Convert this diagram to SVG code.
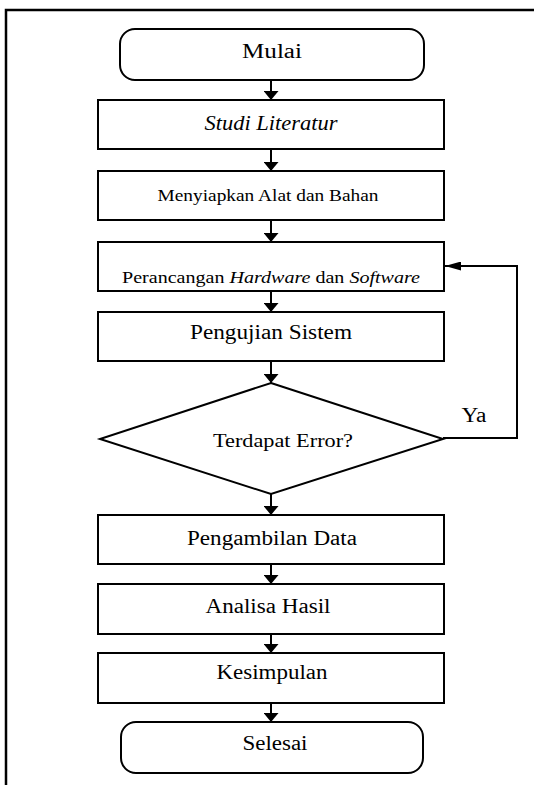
<svg xmlns="http://www.w3.org/2000/svg" width="534" height="785" viewBox="0 0 534 785">
<defs>
<marker id="ah" markerWidth="9" markerHeight="15" refX="9" refY="7.5" orient="auto" markerUnits="userSpaceOnUse">
<path d="M0,0 L9,7.5 L0,15 Z" fill="#000"/>
</marker>
<marker id="ahl" markerWidth="16" markerHeight="9" refX="16" refY="4.5" orient="auto" markerUnits="userSpaceOnUse">
<path d="M0,0 L16,4.5 L0,9 Z" fill="#000"/>
</marker>
<style>
.box{fill:#fff;stroke:#000;stroke-width:2}
.t{font-family:"Liberation Serif","Times New Roman",Tinos,"DejaVu Serif",serif;fill:#000;text-anchor:middle}
.c{fill:none;stroke:#000;stroke-width:2}
</style>
</defs>
<rect width="534" height="785" fill="#fff"/>
<path d="M6,785 V10 H534" fill="none" stroke="#000" stroke-width="2.5"/>
<g id="connectors">
<path class="c" d="M271,80 V100" marker-end="url(#ah)"/>
<path class="c" d="M271,149 V171" marker-end="url(#ah)"/>
<path class="c" d="M271,220 V242" marker-end="url(#ah)"/>
<path class="c" d="M271,291 V312" marker-end="url(#ah)"/>
<path class="c" d="M271,361 V383" marker-end="url(#ah)"/>
<path class="c" d="M271,494 V515" marker-end="url(#ah)"/>
<path class="c" d="M271,564 V584" marker-end="url(#ah)"/>
<path class="c" d="M271,634 V653" marker-end="url(#ah)"/>
<path class="c" d="M271,703 V722" marker-end="url(#ah)"/>
<path class="c" d="M443,438 H517 V266 H445" marker-end="url(#ahl)"/>
<text class="t" x="474" y="422" font-size="20" textLength="25" lengthAdjust="spacingAndGlyphs">Ya</text>
</g>
<g id="mulai">
<rect class="box" x="120" y="29" width="304" height="51" rx="15" ry="15"/>
<text class="t" x="272" y="58" font-size="20" textLength="60" lengthAdjust="spacingAndGlyphs">Mulai</text>
</g>
<g id="studi">
<rect class="box" x="98" y="100" width="346" height="49"/>
<text class="t" x="271" y="130" font-size="20" font-style="italic" textLength="133" lengthAdjust="spacingAndGlyphs">Studi Literatur</text>
</g>
<g id="menyiapkan">
<rect class="box" x="98" y="171" width="346" height="49"/>
<text class="t" x="268" y="201" font-size="17" textLength="221" lengthAdjust="spacingAndGlyphs">Menyiapkan Alat dan Bahan</text>
</g>
<g id="perancangan">
<rect class="box" x="98" y="242" width="346" height="49"/>
<text class="t" x="271" y="283" font-size="17" textLength="298" lengthAdjust="spacingAndGlyphs">Perancangan <tspan font-style="italic">Hardware</tspan> dan <tspan font-style="italic">Software</tspan></text>
</g>
<g id="pengujian">
<rect class="box" x="98" y="312" width="346" height="49"/>
<text class="t" x="271" y="339" font-size="20" textLength="162" lengthAdjust="spacingAndGlyphs">Pengujian Sistem</text>
</g>
<g id="error">
<polygon class="box" points="271,383 443,439 271,494 100,439"/>
<text class="t" x="283" y="447" font-size="19" textLength="140" lengthAdjust="spacingAndGlyphs">Terdapat Error?</text>
</g>
<g id="pengambilan">
<rect class="box" x="98" y="515" width="346" height="49"/>
<text class="t" x="272" y="545" font-size="20" textLength="170" lengthAdjust="spacingAndGlyphs">Pengambilan Data</text>
</g>
<g id="analisa">
<rect class="box" x="98" y="584" width="346" height="50"/>
<text class="t" x="268" y="613" font-size="20" textLength="125" lengthAdjust="spacingAndGlyphs">Analisa Hasil</text>
</g>
<g id="kesimpulan">
<rect class="box" x="98" y="653" width="346" height="50"/>
<text class="t" x="272" y="679" font-size="20" textLength="111" lengthAdjust="spacingAndGlyphs">Kesimpulan</text>
</g>
<g id="selesai">
<rect class="box" x="121" y="722" width="302" height="51" rx="15" ry="15"/>
<text class="t" x="275" y="750" font-size="20" textLength="65" lengthAdjust="spacingAndGlyphs">Selesai</text>
</g>
</svg>
